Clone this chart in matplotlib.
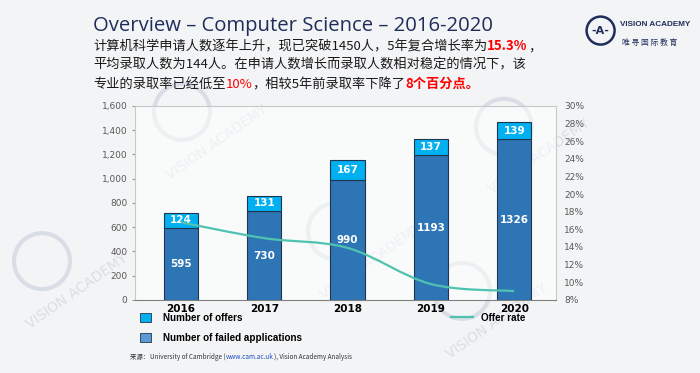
import matplotlib.pyplot as plt
from matplotlib.patches import Patch, Ellipse, PathPatch
from matplotlib.lines import Line2D
from matplotlib.path import Path
from matplotlib.offsetbox import TextArea, HPacker, VPacker, AnchoredOffsetbox
from matplotlib.ticker import FuncFormatter

# data
years = ['2016', '2017', '2018', '2019', '2020']
failed = [595, 730, 990, 1193, 1326]
offers = [124, 131, 167, 137, 139]
offer_rate = [16.8, 15.0, 13.9, 9.8, 9.0]

CJK = ['Noto Sans CJK SC', 'DejaVu Sans']
NAVY = '#1f2d5a'
C_FAIL = '#2e75b6'
C_OFFER = '#00b0f0'
C_RATE = '#4fc3b0'

fig = plt.figure(figsize=(7, 3.73), dpi=100, facecolor='#f3f4f6')

# faint watermarks (behind the chart)
for (wx, wy) in [(0.30, 0.62), (0.52, 0.30), (0.70, 0.14), (0.76, 0.58), (0.10, 0.22)]:
    fig.patches.append(Ellipse((wx - 0.04, wy + 0.08), 0.08, 0.15, transform=fig.transFigure,
                               fill=False, ec='#d9dee6', lw=3, zorder=-1))
    fig.text(wx + 0.01, wy, 'VISION ACADEMY', rotation=35, fontsize=10, color='#d9dee6',
             ha='center', va='center', zorder=-1)

# title
fig.text(0.133, 0.93, 'Overview – Computer Science – 2016-2020', fontsize=14.6,
         family='Open Sans', color=NAVY, va='center')

# chinese summary with highlighted parts
black = dict(color='#1a1a1a', fontsize=9.5, family=CJK)
red = dict(color='#ff0000', fontsize=9.5, family=CJK)
redb = dict(color='#ff0000', fontsize=9.5, family=CJK, fontweight='bold')
lines = [
    [('计算机科学申请人数逐年上升，现已突破1450人，5年复合增长率为', black), ('15.3%', redb), ('，', black)],
    [('平均录取人数为144人。在申请人数增长而录取人数相对稳定的情况下，该', black)],
    [('专业的录取率已经低至', black), ('10%', red), ('，相较5年前录取率下降了', black), ('8个百分点。', redb)],
]
rows = [HPacker(children=[TextArea(t, textprops=p) for t, p in ln], pad=0, sep=0) for ln in lines]
box = VPacker(children=rows, pad=0, sep=4, align='left')
fig.add_artist(AnchoredOffsetbox(loc='upper left', child=box, pad=0, borderpad=0, frameon=False,
                                 bbox_to_anchor=(0.133, 0.895), bbox_transform=fig.transFigure))

# logo
fig.patches.append(Ellipse((0.858, 0.918), 0.04, 0.075, transform=fig.transFigure,
                           fill=False, ec=NAVY, lw=1.8))
fig.text(0.858, 0.916, '-A-', fontsize=8, color=NAVY, ha='center', va='center', fontweight='bold')
fig.text(0.886, 0.935, 'VISION ACADEMY', fontsize=5.9, color=NAVY, fontweight='bold',
         family='Liberation Sans', va='center')
fig.text(0.888, 0.885, '唯 寻 国 际 教 育', fontsize=5.6, color=NAVY, family=CJK, va='center')

# chart
ax = fig.add_axes([0.193, 0.196, 0.601, 0.52])
ax.set_facecolor('white')
ax.patch.set_alpha(0.55)
x = list(range(len(years)))
w = 0.41
ax.bar(x, failed, w, color=C_FAIL, edgecolor='#1f3550', lw=0.8, zorder=3)
ax.bar(x, offers, w, bottom=failed, color=C_OFFER, edgecolor='#1f3550', lw=0.8, zorder=3)
for i in x:
    ax.text(i, failed[i] / 2, str(failed[i]), ha='center', va='center', color='white',
            fontsize=7.5, fontweight='bold', zorder=4)
    ax.text(i, failed[i] + offers[i] / 2, str(offers[i]), ha='center', va='center', color='white',
            fontsize=7.5, fontweight='bold', zorder=4)
ax.set_xlim(-0.55, 4.5)
ax.set_ylim(0, 1600)
ax.set_yticks(range(0, 1601, 200))
ax.yaxis.set_major_formatter(FuncFormatter(lambda v, p: f'{int(v):,}'))
ax.set_xticks(x)
ax.set_xticklabels(years, fontweight='bold', fontsize=7.5)
ax.tick_params(axis='y', labelsize=6.5, labelcolor='#595959', length=2, color='#999999')
ax.tick_params(axis='x', length=0, pad=3)
for s in ax.spines.values():
    s.set_color('#c8c8c8')
ax.spines['bottom'].set_color('#7f7f7f')

ax2 = ax.twinx()
ax2.set_ylim(8, 30)
ax2.set_yticks(range(8, 31, 2))
ax2.yaxis.set_major_formatter(FuncFormatter(lambda v, p: f'{int(v)}%'))
ax2.tick_params(axis='y', labelsize=6.5, labelcolor='#595959', length=0, pad=6)
for s in ax2.spines.values():
    s.set_visible(False)

# smooth offer-rate line (bezier through the points)
pts = list(zip(x, offer_rate))
verts = [pts[0]]
codes = [Path.MOVETO]
for i in range(len(pts) - 1):
    p0 = pts[max(i - 1, 0)]
    p1 = pts[i]
    p2 = pts[i + 1]
    p3 = pts[min(i + 2, len(pts) - 1)]
    c1 = (p1[0] + (p2[0] - p0[0]) / 6, p1[1] + (p2[1] - p0[1]) / 6)
    c2 = (p2[0] - (p3[0] - p1[0]) / 6, p2[1] - (p3[1] - p1[1]) / 6)
    verts += [c1, c2, p2]
    codes += [Path.CURVE4] * 3
ax2.add_patch(PathPatch(Path(verts, codes), fill=False, ec=C_RATE, lw=1.6, zorder=5))

# legends
lprop = dict(weight='bold', size=7.1, family='Liberation Sans')
h1 = [Patch(fc=C_OFFER, ec='#1f3550', lw=0.6, label='Number of offers'),
      Patch(fc='#5b9bd5', ec='#1f3550', lw=0.6, label='Number of failed applications')]
fig.legend(handles=h1, loc='upper left', bbox_to_anchor=(0.187, 0.185), frameon=False,
           prop=lprop, handlelength=1.1, handleheight=1.1,
           handletextpad=1.3, labelspacing=1.0)
h2 = [Line2D([], [], color=C_RATE, lw=1.6, label='Offer rate')]
fig.legend(handles=h2, loc='upper left', bbox_to_anchor=(0.632, 0.185), frameon=False,
           prop=lprop, handlelength=2.2, handletextpad=0.8)

# source
sp = dict(fontsize=4.6, color='#333333', family=CJK)
src = [('来源： ', sp),
       ('University of Cambridge (', sp),
       ('www.cam.ac.uk', dict(sp, color='#1f4fbf')),
       ('), Vision Academy Analysis', sp)]
srow = HPacker(children=[TextArea(t, textprops=p) for t, p in src], pad=0, sep=0)
fig.add_artist(AnchoredOffsetbox(loc='center left', child=srow, pad=0, borderpad=0, frameon=False,
                                 bbox_to_anchor=(0.185, 0.043), bbox_transform=fig.transFigure))

fig.savefig('out.png', dpi=100, facecolor=fig.get_facecolor())
